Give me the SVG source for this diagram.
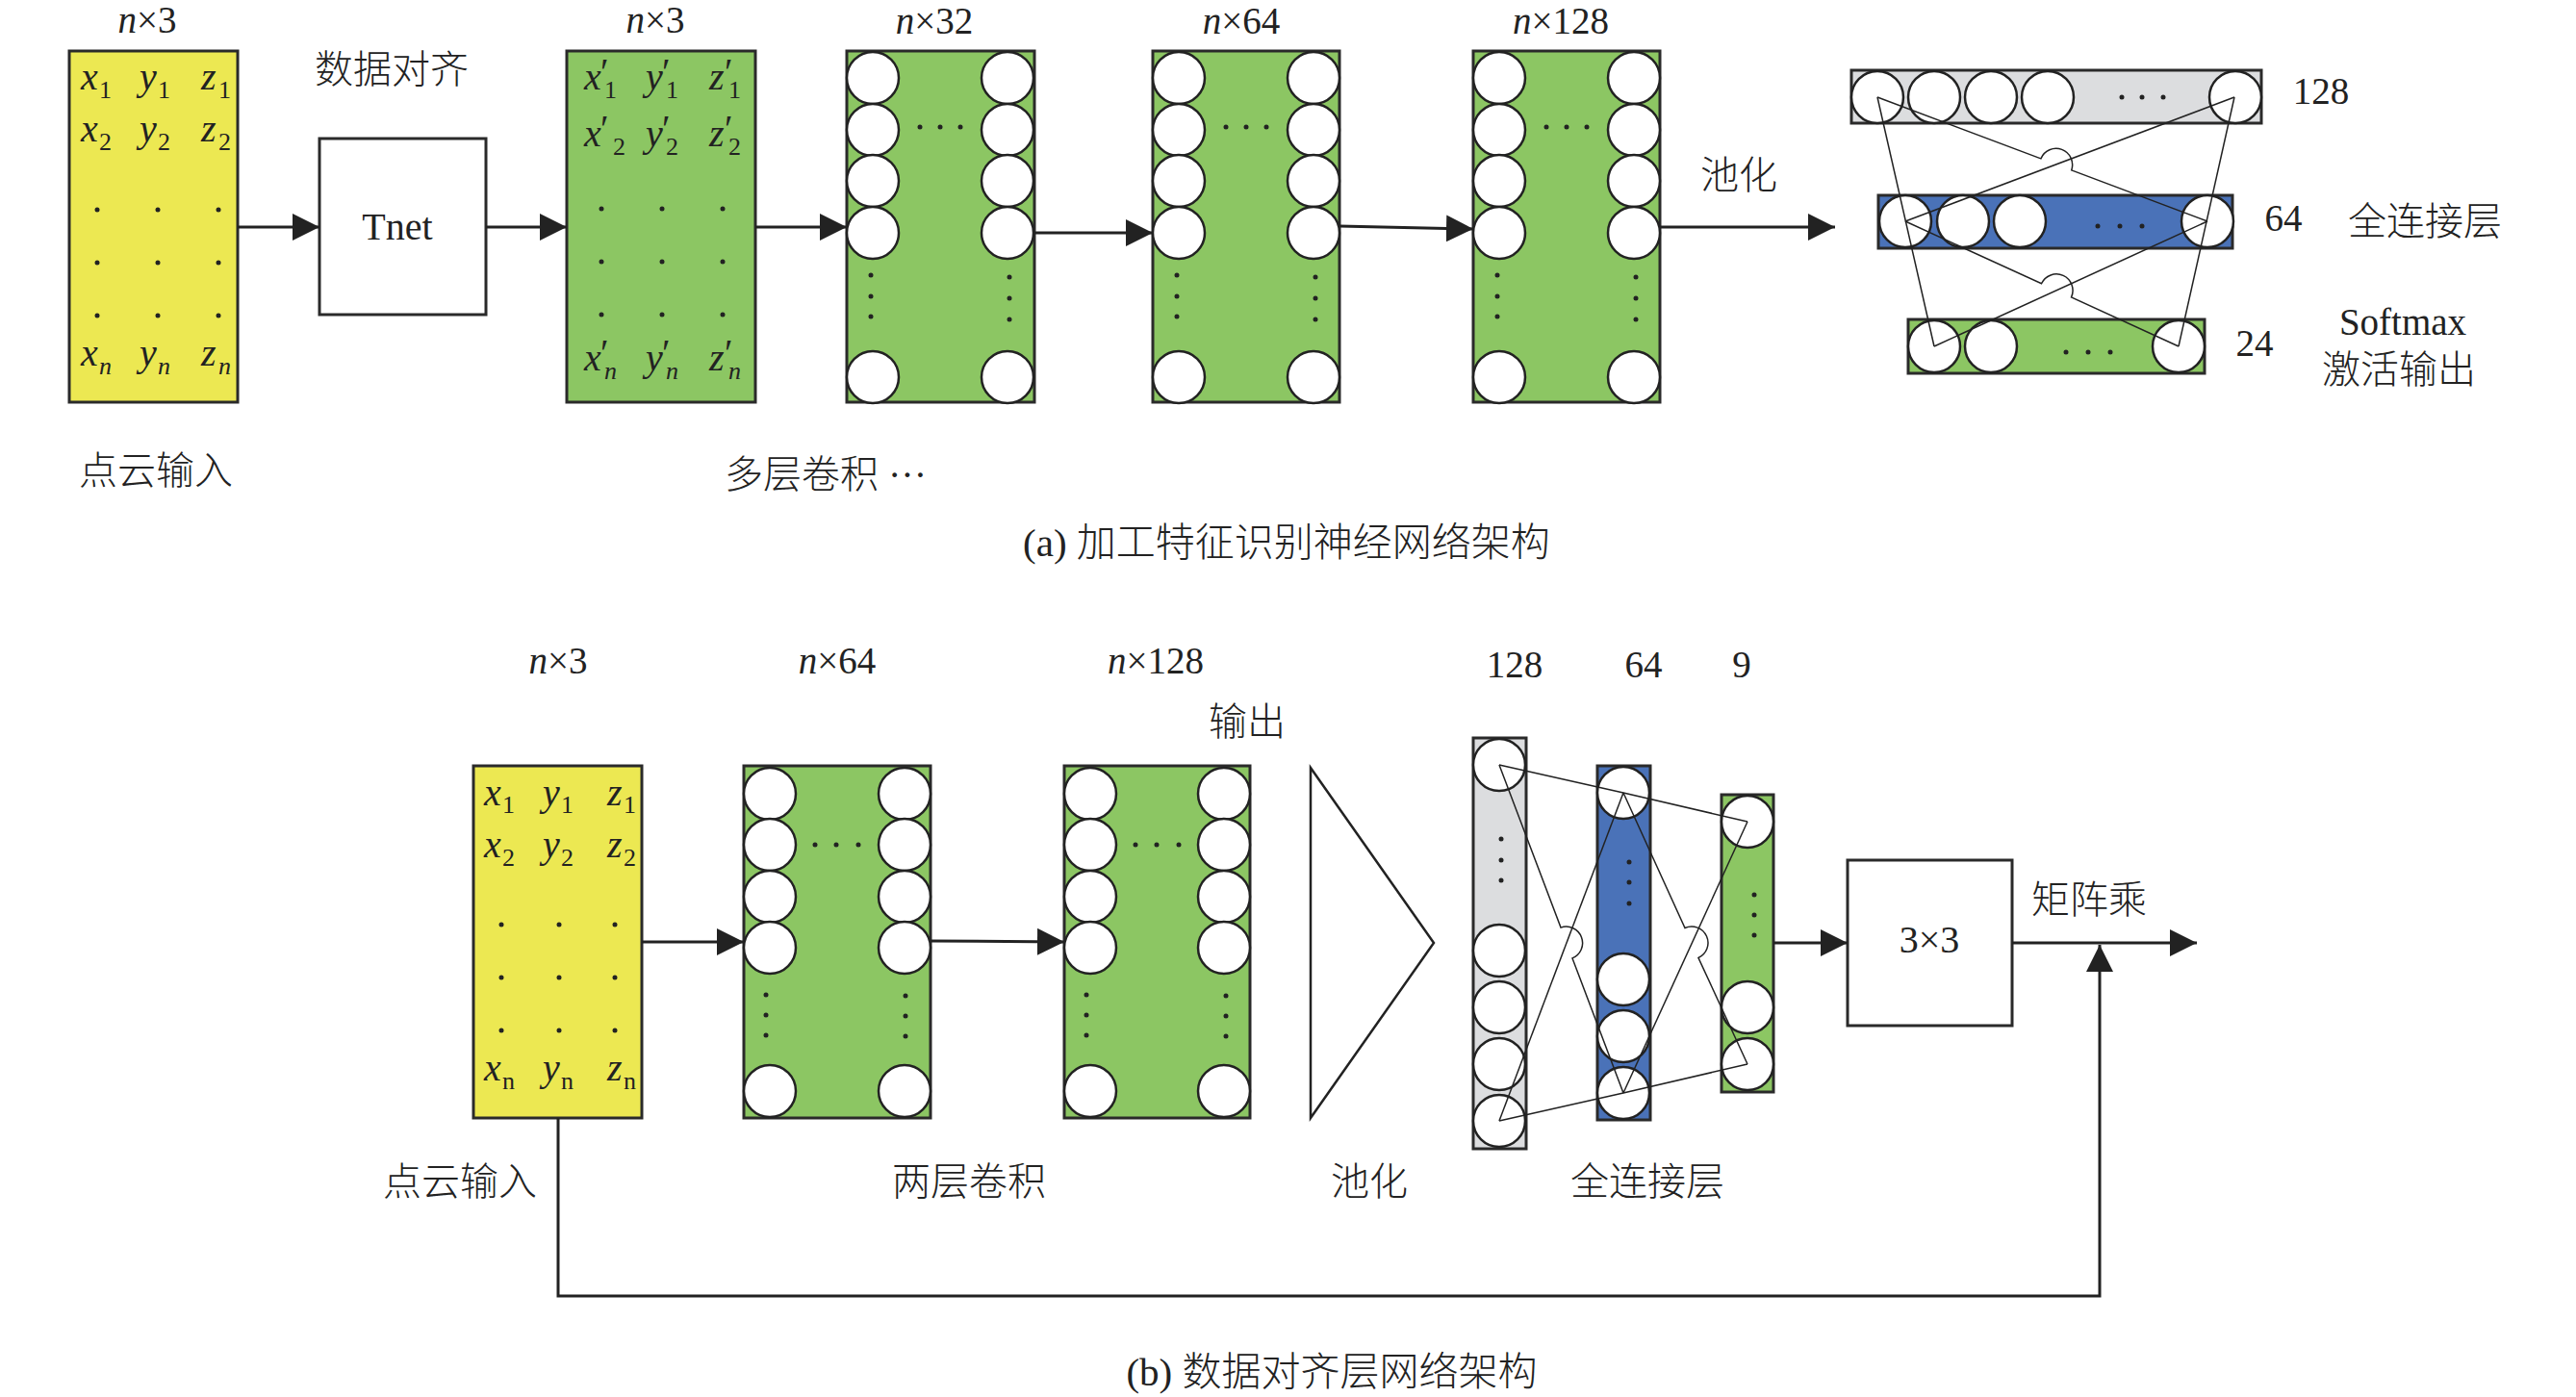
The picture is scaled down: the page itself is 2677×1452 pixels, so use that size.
<svg xmlns="http://www.w3.org/2000/svg" width="2677" height="1452" viewBox="0 0 2677 1452">
<defs>
<style>
.t{font-family:"Liberation Serif","Noto Sans CJK SC",serif;fill:#222;font-size:39px}
.c{font-family:"Liberation Serif","Noto Sans CJK SC",sans-serif;fill:#222;font-size:40px;font-weight:300}
.cap{font-size:41px}
.m{text-anchor:middle}
.i{font-style:italic}
.v{font-family:"Liberation Serif",serif;fill:#222;font-size:40px;font-style:italic}
.s{font-family:"Liberation Serif",serif;fill:#222;font-size:26px}
.box{stroke:#2a2a2a;stroke-width:3}
.yellow{fill:#ECE852}
.green{fill:#8CC663}
.gray{fill:#DCDDDF}
.blue{fill:#4A72B8}
.white{fill:#fff}
.nd{fill:#fff;stroke:#222;stroke-width:2.5}
.dot{fill:#222}
.conn{stroke:#222;stroke-width:3;fill:none}
.fc{stroke:#222;stroke-width:1.5;fill:none}
</style>
<marker id="ah" viewBox="0 0 10 10" refX="10" refY="5" markerWidth="28" markerHeight="28" markerUnits="userSpaceOnUse" orient="auto">
<path d="M0,0 L10,5 L0,10 z" fill="#222"/>
</marker>
</defs>
<rect width="2677" height="1452" fill="#fff"/>

<!-- ============ Part (a) ============ -->
<g id="a-input">
<text class="t m" x="153" y="34"><tspan class="i">n</tspan>×3</text>
<rect class="box yellow" x="72" y="53" width="175" height="365"/>
<text class="v" x="84" y="93">x</text><text class="s" x="103" y="102">1</text>
<text class="v" x="145" y="93">y</text><text class="s" x="164" y="102">1</text>
<text class="v" x="209" y="93">z</text><text class="s" x="227" y="102">1</text>
<text class="v" x="84" y="147">x</text><text class="s" x="103" y="156">2</text>
<text class="v" x="145" y="147">y</text><text class="s" x="164" y="156">2</text>
<text class="v" x="209" y="147">z</text><text class="s" x="227" y="156">2</text>
<g class="dot">
<circle cx="101" cy="218" r="2.5"/><circle cx="164" cy="218" r="2.5"/><circle cx="227" cy="218" r="2.5"/>
<circle cx="101" cy="273" r="2.5"/><circle cx="164" cy="273" r="2.5"/><circle cx="227" cy="273" r="2.5"/>
<circle cx="101" cy="328" r="2.5"/><circle cx="164" cy="328" r="2.5"/><circle cx="227" cy="328" r="2.5"/>
</g>
<text class="v" x="84" y="380">x</text><text class="s i" x="103" y="389">n</text>
<text class="v" x="145" y="380">y</text><text class="s i" x="164" y="389">n</text>
<text class="v" x="209" y="380">z</text><text class="s i" x="227" y="389">n</text>
<text class="c" x="82" y="503">点云输入</text>
</g>

<g id="a-tnet">
<text class="c" x="327" y="86">数据对齐</text>
<rect class="box white" x="332" y="144" width="173" height="183"/>
<text class="t m" x="413" y="249" style="font-size:40px">Tnet</text>
</g>

<g id="a-aligned">
<text class="t m" x="681" y="34"><tspan class="i">n</tspan>×3</text>
<rect class="box green" x="589" y="53" width="196" height="365"/>
<text class="v" x="607" y="93">x</text><text class="t" x="624" y="88">′</text><text class="s" x="628" y="102">1</text>
<text class="v" x="671" y="93">y</text><text class="t" x="688" y="88">′</text><text class="s" x="692" y="102">1</text>
<text class="v" x="737" y="93">z</text><text class="t" x="753" y="88">′</text><text class="s" x="757" y="102">1</text>
<text class="v" x="607" y="152">x</text><text class="t" x="624" y="147">′</text><text class="s" x="637" y="161">2</text>
<text class="v" x="671" y="152">y</text><text class="t" x="688" y="147">′</text><text class="s" x="692" y="161">2</text>
<text class="v" x="737" y="152">z</text><text class="t" x="753" y="147">′</text><text class="s" x="757" y="161">2</text>
<g class="dot">
<circle cx="625" cy="217" r="2.5"/><circle cx="688" cy="217" r="2.5"/><circle cx="751" cy="217" r="2.5"/>
<circle cx="625" cy="272" r="2.5"/><circle cx="688" cy="272" r="2.5"/><circle cx="751" cy="272" r="2.5"/>
<circle cx="625" cy="327" r="2.5"/><circle cx="688" cy="327" r="2.5"/><circle cx="751" cy="327" r="2.5"/>
</g>
<text class="v" x="607" y="385">x</text><text class="t" x="624" y="380">′</text><text class="s i" x="628" y="394">n</text>
<text class="v" x="671" y="385">y</text><text class="t" x="688" y="380">′</text><text class="s i" x="692" y="394">n</text>
<text class="v" x="737" y="385">z</text><text class="t" x="753" y="380">′</text><text class="s i" x="757" y="394">n</text>
</g>

<g id="a-conv32">
<text class="t m" x="971" y="35"><tspan class="i">n</tspan>×32</text>
<rect class="box green" x="880" y="53" width="195" height="365"/>
<g class="nd">
<circle cx="907" cy="81" r="27"/><circle cx="907" cy="135" r="27"/><circle cx="907" cy="188" r="27"/><circle cx="907" cy="242" r="27"/><circle cx="907" cy="392" r="27"/>
<circle cx="1047" cy="81" r="27"/><circle cx="1047" cy="135" r="27"/><circle cx="1047" cy="188" r="27"/><circle cx="1047" cy="242" r="27"/><circle cx="1047" cy="392" r="27"/>
</g>
<g class="dot">
<circle cx="956" cy="132" r="2.5"/><circle cx="977" cy="132" r="2.5"/><circle cx="998" cy="132" r="2.5"/>
<circle cx="905" cy="286" r="2.5"/><circle cx="905" cy="308" r="2.5"/><circle cx="905" cy="329" r="2.5"/>
<circle cx="1049" cy="288" r="2.5"/><circle cx="1049" cy="310" r="2.5"/><circle cx="1049" cy="332" r="2.5"/>
</g>
</g>

<g id="a-conv64">
<text class="t m" x="1290" y="35"><tspan class="i">n</tspan>×64</text>
<rect class="box green" x="1198" y="53" width="194" height="365"/>
<g class="nd">
<circle cx="1225" cy="81" r="27"/><circle cx="1225" cy="135" r="27"/><circle cx="1225" cy="188" r="27"/><circle cx="1225" cy="242" r="27"/><circle cx="1225" cy="392" r="27"/>
<circle cx="1365" cy="81" r="27"/><circle cx="1365" cy="135" r="27"/><circle cx="1365" cy="188" r="27"/><circle cx="1365" cy="242" r="27"/><circle cx="1365" cy="392" r="27"/>
</g>
<g class="dot">
<circle cx="1274" cy="132" r="2.5"/><circle cx="1295" cy="132" r="2.5"/><circle cx="1316" cy="132" r="2.5"/>
<circle cx="1223" cy="286" r="2.5"/><circle cx="1223" cy="308" r="2.5"/><circle cx="1223" cy="329" r="2.5"/>
<circle cx="1367" cy="288" r="2.5"/><circle cx="1367" cy="310" r="2.5"/><circle cx="1367" cy="332" r="2.5"/>
</g>
</g>

<g id="a-conv128">
<text class="t m" x="1622" y="35"><tspan class="i">n</tspan>×128</text>
<rect class="box green" x="1531" y="53" width="194" height="365"/>
<g class="nd">
<circle cx="1558" cy="81" r="27"/><circle cx="1558" cy="135" r="27"/><circle cx="1558" cy="188" r="27"/><circle cx="1558" cy="242" r="27"/><circle cx="1558" cy="392" r="27"/>
<circle cx="1698" cy="81" r="27"/><circle cx="1698" cy="135" r="27"/><circle cx="1698" cy="188" r="27"/><circle cx="1698" cy="242" r="27"/><circle cx="1698" cy="392" r="27"/>
</g>
<g class="dot">
<circle cx="1607" cy="132" r="2.5"/><circle cx="1628" cy="132" r="2.5"/><circle cx="1649" cy="132" r="2.5"/>
<circle cx="1556" cy="286" r="2.5"/><circle cx="1556" cy="308" r="2.5"/><circle cx="1556" cy="329" r="2.5"/>
<circle cx="1700" cy="288" r="2.5"/><circle cx="1700" cy="310" r="2.5"/><circle cx="1700" cy="332" r="2.5"/>
</g>
</g>

<g id="a-labels">
<text class="c" x="753" y="507">多层卷积 ···</text>
<text class="c" x="1767" y="196">池化</text>
<text class="c cap m" x="1337" y="578">(a) 加工特征识别神经网络架构</text>
</g>

<g id="a-fc128">
<rect class="box gray" x="1924" y="73" width="426" height="55"/>
<g class="nd">
<circle cx="1951" cy="101" r="27"/><circle cx="2010" cy="101" r="27"/><circle cx="2069" cy="101" r="27"/><circle cx="2128" cy="101" r="27"/><circle cx="2323" cy="101" r="27"/>
</g>
<g class="dot"><circle cx="2205" cy="101" r="2.5"/><circle cx="2226" cy="101" r="2.5"/><circle cx="2248" cy="101" r="2.5"/></g>
<text class="t m" x="2412" y="108">128</text>
</g>

<g id="a-fc64">
<rect class="box blue" x="1952" y="203" width="368" height="55"/>
<g class="nd">
<circle cx="1980" cy="230" r="27"/><circle cx="2040" cy="230" r="27"/><circle cx="2099" cy="230" r="27"/><circle cx="2294" cy="230" r="27"/>
</g>
<g class="dot"><circle cx="2180" cy="235" r="2.5"/><circle cx="2203" cy="235" r="2.5"/><circle cx="2226" cy="235" r="2.5"/></g>
<text class="t m" x="2373" y="240">64</text>
<text class="c" x="2440" y="244">全连接层</text>
</g>

<g id="a-fc24">
<rect class="box green" x="1983" y="332" width="308" height="56"/>
<g class="nd">
<circle cx="2010" cy="360" r="27"/><circle cx="2069" cy="360" r="27"/><circle cx="2264" cy="360" r="27"/>
</g>
<g class="dot"><circle cx="2147" cy="366" r="2.5"/><circle cx="2170" cy="366" r="2.5"/><circle cx="2193" cy="366" r="2.5"/></g>
<text class="t m" x="2343" y="370">24</text>
<text class="t m" x="2497" y="348">Softmax</text>
<text class="c" x="2413" y="398">激活输出</text>
</g>

<!-- ============ Part (b) ============ -->
<g id="b-input">
<text class="t m" x="580" y="700"><tspan class="i">n</tspan>×3</text>
<rect class="box yellow" x="492" y="796" width="175" height="366"/>
<text class="v" x="503" y="837">x</text><text class="s" x="522" y="845">1</text>
<text class="v" x="564" y="837">y</text><text class="s" x="583" y="845">1</text>
<text class="v" x="631" y="837">z</text><text class="s" x="648" y="845">1</text>
<text class="v" x="503" y="891">x</text><text class="s" x="522" y="900">2</text>
<text class="v" x="564" y="891">y</text><text class="s" x="583" y="900">2</text>
<text class="v" x="631" y="891">z</text><text class="s" x="648" y="900">2</text>
<g class="dot">
<circle cx="521" cy="961" r="2.5"/><circle cx="581" cy="961" r="2.5"/><circle cx="639" cy="961" r="2.5"/>
<circle cx="521" cy="1016" r="2.5"/><circle cx="581" cy="1016" r="2.5"/><circle cx="639" cy="1016" r="2.5"/>
<circle cx="521" cy="1071" r="2.5"/><circle cx="581" cy="1071" r="2.5"/><circle cx="639" cy="1071" r="2.5"/>
</g>
<text class="v" x="503" y="1123">x</text><text class="s" x="522" y="1132">n</text>
<text class="v" x="564" y="1123">y</text><text class="s" x="583" y="1132">n</text>
<text class="v" x="631" y="1123">z</text><text class="s" x="648" y="1132">n</text>
<text class="c" x="398" y="1242">点云输入</text>
</g>

<g id="b-conv64">
<text class="t m" x="870" y="700"><tspan class="i">n</tspan>×64</text>
<rect class="box green" x="773" y="796" width="194" height="366"/>
<g class="nd">
<circle cx="800" cy="825" r="27"/><circle cx="800" cy="878" r="27"/><circle cx="800" cy="932" r="27"/><circle cx="800" cy="985" r="27"/><circle cx="800" cy="1134" r="27"/>
<circle cx="940" cy="825" r="27"/><circle cx="940" cy="878" r="27"/><circle cx="940" cy="932" r="27"/><circle cx="940" cy="985" r="27"/><circle cx="940" cy="1134" r="27"/>
</g>
<g class="dot">
<circle cx="847" cy="878" r="2.5"/><circle cx="869" cy="878" r="2.5"/><circle cx="892" cy="878" r="2.5"/>
<circle cx="796" cy="1034" r="2.5"/><circle cx="796" cy="1055" r="2.5"/><circle cx="796" cy="1076" r="2.5"/>
<circle cx="941" cy="1035" r="2.5"/><circle cx="941" cy="1056" r="2.5"/><circle cx="941" cy="1077" r="2.5"/>
</g>
<text class="c" x="927" y="1242">两层卷积</text>
</g>

<g id="b-conv128">
<text class="t m" x="1201" y="700"><tspan class="i">n</tspan>×128</text>
<text class="c" x="1256" y="764">输出</text>
<rect class="box green" x="1106" y="796" width="193" height="366"/>
<g class="nd">
<circle cx="1133" cy="825" r="27"/><circle cx="1133" cy="878" r="27"/><circle cx="1133" cy="932" r="27"/><circle cx="1133" cy="985" r="27"/><circle cx="1133" cy="1134" r="27"/>
<circle cx="1272" cy="825" r="27"/><circle cx="1272" cy="878" r="27"/><circle cx="1272" cy="932" r="27"/><circle cx="1272" cy="985" r="27"/><circle cx="1272" cy="1134" r="27"/>
</g>
<g class="dot">
<circle cx="1180" cy="878" r="2.5"/><circle cx="1202" cy="878" r="2.5"/><circle cx="1225" cy="878" r="2.5"/>
<circle cx="1129" cy="1034" r="2.5"/><circle cx="1129" cy="1055" r="2.5"/><circle cx="1129" cy="1076" r="2.5"/>
<circle cx="1274" cy="1035" r="2.5"/><circle cx="1274" cy="1056" r="2.5"/><circle cx="1274" cy="1077" r="2.5"/>
</g>
</g>

<g id="b-pool">
<polygon points="1362,798 1490,980 1362,1162" fill="#fff" stroke="#222" stroke-width="2.5"/>
<text class="c" x="1383" y="1242">池化</text>
</g>

<g id="b-fc128">
<text class="t m" x="1574" y="704">128</text>
<rect class="box gray" x="1531" y="767" width="55" height="427"/>
<g class="nd">
<circle cx="1558" cy="795" r="27"/><circle cx="1558" cy="988" r="27"/><circle cx="1558" cy="1047" r="27"/><circle cx="1558" cy="1106" r="27"/><circle cx="1558" cy="1165" r="27"/>
</g>
<g class="dot"><circle cx="1560" cy="872" r="2.5"/><circle cx="1560" cy="894" r="2.5"/><circle cx="1560" cy="915" r="2.5"/></g>
</g>

<g id="b-fc64">
<text class="t m" x="1708" y="704">64</text>
<rect class="box blue" x="1660" y="796" width="55" height="368"/>
<g class="nd">
<circle cx="1687" cy="824" r="27"/><circle cx="1687" cy="1018" r="27"/><circle cx="1687" cy="1077" r="27"/><circle cx="1687" cy="1136" r="27"/>
</g>
<g class="dot"><circle cx="1693" cy="896" r="2.5"/><circle cx="1693" cy="917" r="2.5"/><circle cx="1693" cy="939" r="2.5"/></g>
<text class="c" x="1632" y="1242">全连接层</text>
</g>

<g id="b-fc9">
<text class="t m" x="1810" y="704">9</text>
<rect class="box green" x="1789" y="826" width="54" height="309"/>
<g class="nd">
<circle cx="1816" cy="854" r="27"/><circle cx="1816" cy="1047" r="27"/><circle cx="1816" cy="1106" r="27"/>
</g>
<g class="dot"><circle cx="1823" cy="930" r="2.5"/><circle cx="1823" cy="951" r="2.5"/><circle cx="1823" cy="972" r="2.5"/></g>
</g>

<g id="b-mat">
<rect class="box white" x="1920" y="894" width="171" height="172"/>
<text class="t m" x="2005" y="990" style="font-size:40px">3×3</text>
<text class="c" x="2111" y="949">矩阵乘</text>
</g>

<g id="b-labels">
<text class="c cap m" x="1384" y="1440">(b) 数据对齐层网络架构</text>
</g>

<!-- ============ Connectors ============ -->
<g id="connectors">
<line class="conn" x1="247" y1="236" x2="332" y2="236" marker-end="url(#ah)"/>
<line class="conn" x1="505" y1="236" x2="589" y2="236" marker-end="url(#ah)"/>
<line class="conn" x1="785" y1="236" x2="880" y2="236" marker-end="url(#ah)"/>
<line class="conn" x1="1075" y1="242" x2="1198" y2="242" marker-end="url(#ah)"/>
<line class="conn" x1="1392" y1="235" x2="1531" y2="238" marker-end="url(#ah)"/>
<line class="conn" x1="1725" y1="236" x2="1907" y2="236" marker-end="url(#ah)"/>

<path class="fc" d="M1951,101 L2120.9,164.9 A17,17 0 0,1 2152.7,176.9 L2294,230"/>
<path class="fc" d="M2322,101 L1980,230"/>
<path class="fc" d="M1951,101 L2010,360"/>
<path class="fc" d="M2322,101 L2264,360"/>
<path class="fc" d="M1980,230 L2121.5,294.8 A17,17 0 0,1 2152.5,309 L2264,360"/>
<path class="fc" d="M2294,230 L2010,360"/>

<line class="conn" x1="667" y1="979" x2="773" y2="979" marker-end="url(#ah)"/>
<line class="conn" x1="967" y1="978" x2="1106" y2="979" marker-end="url(#ah)"/>

<path class="fc" d="M1558,795 L1687,824 L1816,854"/>
<path class="fc" d="M1558,1165 L1687,1136 L1816,1106"/>
<path class="fc" d="M1558,795 L1622,964.1 A17,17 0 0,1 1634,995.9 L1687,1136"/>
<path class="fc" d="M1558,1165 L1687,824"/>
<path class="fc" d="M1687,824 L1751,964.5 A17,17 0 0,1 1765,995.5 L1816,1106"/>
<path class="fc" d="M1687,1136 L1816,854"/>

<line class="conn" x1="1843" y1="980" x2="1920" y2="980" marker-end="url(#ah)"/>
<line class="conn" x1="2091" y1="980" x2="2283" y2="980" marker-end="url(#ah)"/>
<path class="conn" d="M580,1162 V1347 H2182 V982" marker-end="url(#ah)"/>
</g>
</svg>
